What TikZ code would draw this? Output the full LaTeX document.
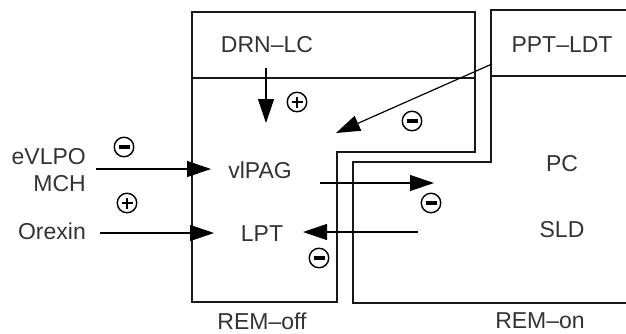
\documentclass[tikz,border=0pt]{standalone}
\usepackage{fontspec}
\setmainfont{Liberation Sans}
\usetikzlibrary{arrows.meta}
\begin{document}
\begin{tikzpicture}[x=1pt,y=-1pt,
 region/.style={line width=2pt, line join=miter, draw=black!90},
 lbl/.style={font=\fontsize{23}{26}\selectfont, text=black!80, inner sep=0pt},
 conn/.style={line width=1.2pt, -{Triangle[length=24pt,width=16pt]}},
 signc/.style={circle, draw, line width=1.4pt, minimum size=19.5pt, inner sep=0pt},
 plusc/.style={signc, path picture={
   \draw[line width=1.2pt] ([xshift=-5.5pt]path picture bounding box.center) -- ([xshift=5.5pt]path picture bounding box.center);
   \draw[line width=1.2pt] ([yshift=-5.5pt]path picture bounding box.center) -- ([yshift=5.5pt]path picture bounding box.center);}},
 minusc/.style={signc, path picture={
   \draw[line width=3.4pt] ([xshift=-5.5pt]path picture bounding box.center) -- ([xshift=5.5pt]path picture bounding box.center);}},
]
\useasboundingbox (0,0) rectangle (626,333);

% regions
\draw[region] (192,12) -- (475,12) -- (475,152) -- (337,152) -- (337,302) -- (192,302) -- cycle;
\draw[region] (192,78) -- (475,78);
\draw[region] (632,10) -- (491,10) -- (491,162) -- (353,162) -- (353,303) -- (632,303);
\draw[region] (491,76) -- (632,76);

% labels
\node[lbl] (drn) at (267,45) {DRN–LC};
\node[lbl] (ppt) at (562,45) {PPT–LDT};
\node[lbl] (pc) at (562,164) {PC};
\node[lbl] (sld) at (562,230) {SLD};
\node[lbl] (vlpag) at (260,170) {vlPAG};
\node[lbl] (lpt) at (262,234) {LPT};
\node[lbl, anchor=east] (evlpo) at (86,157) {eVLPO};
\node[lbl, anchor=east] (mch) at (86,184) {MCH};
\node[lbl, anchor=east] (orexin) at (86,231) {Orexin};
\node[lbl] (remoff) at (262,321) {REM–off};
\node[lbl] (remon) at (540,321) {REM–on};

% connector end points
\coordinate (a1s) at (96,169);  \coordinate (a1e) at (211,169);
\coordinate (a2s) at (100,233); \coordinate (a2e) at (214,233);
\coordinate (a3s) at (266,68);  \coordinate (a3e) at (266,123);
\coordinate (a4s) at (492,64);  \coordinate (a4e) at (336,133);
\coordinate (a5s) at (320,183); \coordinate (a5e) at (434,183);
\coordinate (a6s) at (418,232); \coordinate (a6e) at (303,232);

\draw[conn] (a1s) -- (a1e);
\draw[conn] (a2s) -- (a2e);
\draw[conn] (a3s) -- (a3e);
\draw[conn] (a4s) -- (a4e);
\draw[conn] (a5s) -- (a5e);
\draw[conn] (a6s) -- (a6e);

% signs
\node[minusc] (s1) at (124,147) {};
\node[plusc]  (s2) at (127,203) {};
\node[plusc]  (s3) at (297,102) {};
\node[minusc] (s4) at (412,121) {};
\node[minusc] (s5) at (431,203) {};
\node[minusc] (s6) at (319,258) {};
\end{tikzpicture}
\end{document}
